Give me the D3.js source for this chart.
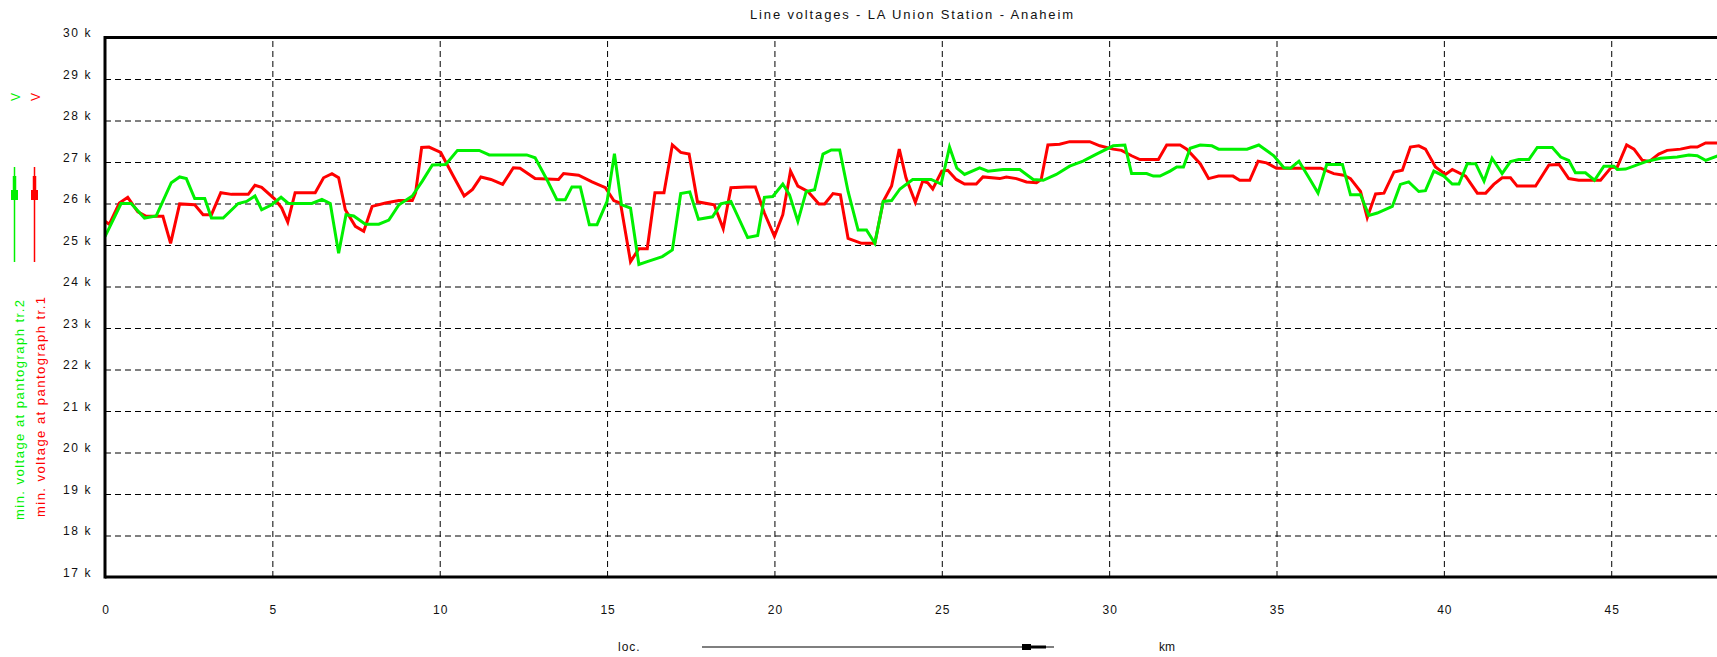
<!DOCTYPE html>
<html>
<head>
<meta charset="utf-8">
<script src="https://cdn.jsdelivr.net/npm/d3@7"></script>
<style>
  html, body { margin: 0; padding: 0; background: #fff; }
  svg { display: block; font-family: "Liberation Sans", Arial, sans-serif; }
</style>
</head>
<body>
<svg id="chart" width="1717" height="657"></svg>
<script>
// values (km, kV)
const redKm = [0, 0.13, 0.43, 0.68, 0.98, 1.23, 1.73, 1.96, 2.23, 2.68, 2.93, 3.18, 3.46, 3.78, 4.28, 4.48, 4.68, 5.08, 5.28, 5.46, 5.68, 6.28, 6.53, 6.78, 6.98, 7.18, 7.48, 7.73, 7.98, 8.38, 8.78, 9.18, 9.28, 9.46, 9.68, 10.03, 10.38, 10.73, 10.98, 11.23, 11.53, 11.88, 12.2, 12.4, 12.85, 13.55, 13.7, 14.15, 14.55, 14.95, 15.2, 15.4, 15.7, 15.95, 16.2, 16.43, 16.7, 16.95, 17.2, 17.45, 17.7, 18.2, 18.47, 18.7, 19.15, 19.43, 19.7, 20.0, 20.25, 20.48, 20.7, 21.0, 21.33, 21.5, 21.75, 21.97, 22.2, 22.6, 23.0, 23.25, 23.5, 23.73, 23.93, 24.21, 24.43, 24.58, 24.73, 25.0, 25.18, 25.43, 25.68, 26.03, 26.23, 26.73, 26.93, 27.23, 27.53, 27.83, 27.97, 28.17, 28.52, 28.82, 29.42, 29.72, 30.12, 30.37, 30.67, 30.92, 31.47, 31.72, 32.12, 32.32, 32.72, 32.97, 33.27, 33.7, 33.9, 34.2, 34.45, 34.7, 35.0, 36.32, 36.71, 37.01, 37.21, 37.51, 37.71, 37.96, 38.21, 38.51, 38.76, 39.0, 39.25, 39.45, 39.75, 40.05, 40.25, 40.65, 41.0, 41.25, 41.49, 41.74, 41.99, 42.19, 42.74, 43.14, 43.44, 43.73, 44.03, 44.68, 45.0, 45.18, 45.46, 45.68, 45.93, 46.13, 46.42, 46.67, 47.07, 47.37, 47.57, 47.82, 48.18];
const redKv = [25.57, 25.5, 26.01, 26.15, 25.8, 25.69, 25.69, 25.04, 25.99, 25.97, 25.73, 25.73, 26.26, 26.22, 26.22, 26.44, 26.39, 26.1, 25.89, 25.55, 26.26, 26.26, 26.62, 26.72, 26.62, 25.85, 25.45, 25.33, 25.93, 26.01, 26.07, 26.07, 26.26, 27.35, 27.36, 27.23, 26.7, 26.18, 26.34, 26.64, 26.58, 26.46, 26.86, 26.85, 26.6, 26.58, 26.72, 26.68, 26.52, 26.38, 26.07, 26.01, 24.6, 24.91, 24.91, 26.26, 26.26, 27.41, 27.23, 27.19, 26.04, 25.97, 25.39, 26.38, 26.4, 26.4, 25.77, 25.21, 25.73, 26.78, 26.42, 26.29, 25.99, 25.99, 26.24, 26.21, 25.16, 25.04, 25.04, 26.05, 26.42, 27.31, 26.62, 26.03, 26.54, 26.5, 26.35, 26.78, 26.8, 26.58, 26.47, 26.47, 26.64, 26.6, 26.64, 26.6, 26.52, 26.5, 26.58, 27.41, 27.43, 27.49, 27.49, 27.39, 27.31, 27.28, 27.15, 27.06, 27.06, 27.41, 27.41, 27.31, 26.96, 26.6, 26.66, 26.66, 26.56, 26.56, 27.02, 26.98, 26.85, 26.85, 26.72, 26.68, 26.6, 26.29, 25.66, 26.23, 26.25, 26.76, 26.8, 27.36, 27.39, 27.31, 26.88, 26.7, 26.82, 26.66, 26.25, 26.25, 26.46, 26.62, 26.62, 26.42, 26.42, 26.93, 26.94, 26.6, 26.56, 26.56, 26.87, 26.88, 27.41, 27.31, 27.04, 27.01, 27.19, 27.28, 27.31, 27.36, 27.36, 27.46, 27.46];

const greenKm = [0, 0.48, 0.78, 1.18, 1.53, 1.98, 2.23, 2.43, 2.68, 2.98, 3.18, 3.53, 3.98, 4.23, 4.48, 4.68, 4.98, 5.26, 5.48, 6.18, 6.48, 6.73, 6.98, 7.2, 7.43, 7.78, 8.18, 8.48, 8.78, 9.18, 9.48, 9.78, 10.18, 10.53, 11.18, 11.48, 12.6, 12.85, 13.2, 13.5, 13.75, 13.95, 14.2, 14.47, 14.7, 15.0, 15.22, 15.43, 15.7, 15.95, 16.2, 16.65, 16.95, 17.2, 17.47, 17.73, 18.15, 18.4, 18.7, 19.2, 19.5, 19.7, 19.95, 20.25, 20.45, 20.7, 20.95, 21.2, 21.45, 21.7, 21.95, 22.2, 22.5, 22.75, 23.0, 23.25, 23.5, 23.75, 24.13, 24.68, 24.98, 25.23, 25.45, 25.68, 26.13, 26.38, 26.83, 27.33, 27.73, 28.03, 28.42, 28.82, 29.22, 29.62, 30.12, 30.47, 30.67, 31.12, 31.32, 31.52, 31.82, 32.02, 32.22, 32.42, 32.72, 33.07, 33.27, 34.12, 34.47, 34.92, 35.22, 35.42, 35.67, 35.97, 36.24, 36.5, 36.97, 37.21, 37.51, 37.76, 38.01, 38.46, 38.7, 38.95, 39.25, 39.45, 39.7, 40.0, 40.25, 40.45, 40.7, 40.95, 41.2, 41.44, 41.74, 41.99, 42.24, 42.54, 42.79, 43.24, 43.49, 43.73, 43.93, 44.23, 44.5, 44.78, 45.08, 45.18, 45.43, 46.08, 46.47, 46.97, 47.32, 47.57, 47.82, 48.18];
const greenKv = [25.2, 26.0, 26.0, 25.65, 25.7, 26.5, 26.64, 26.6, 26.12, 26.12, 25.65, 25.65, 26.0, 26.05, 26.18, 25.85, 25.97, 26.15, 26.0, 26.0, 26.1, 26.0, 24.8, 25.73, 25.7, 25.5, 25.5, 25.6, 25.97, 26.18, 26.54, 26.93, 26.94, 27.28, 27.28, 27.17, 27.17, 27.1, 26.58, 26.09, 26.09, 26.4, 26.4, 25.49, 25.49, 26.05, 27.2, 25.97, 25.89, 24.53, 24.6, 24.72, 24.88, 26.24, 26.28, 25.62, 25.68, 25.99, 26.05, 25.18, 25.23, 26.15, 26.17, 26.47, 26.21, 25.57, 26.29, 26.33, 27.19, 27.29, 27.29, 26.29, 25.36, 25.36, 25.04, 26.05, 26.07, 26.35, 26.58, 26.58, 26.47, 27.36, 26.85, 26.7, 26.86, 26.78, 26.82, 26.82, 26.58, 26.56, 26.7, 26.9, 27.02, 27.19, 27.39, 27.41, 26.72, 26.72, 26.66, 26.66, 26.78, 26.88, 26.88, 27.33, 27.41, 27.39, 27.31, 27.31, 27.41, 27.15, 26.86, 26.85, 27.02, 26.62, 26.25, 26.94, 26.94, 26.21, 26.21, 25.71, 25.77, 25.93, 26.46, 26.52, 26.29, 26.31, 26.78, 26.66, 26.47, 26.47, 26.96, 26.96, 26.54, 27.09, 26.72, 27.01, 27.06, 27.06, 27.35, 27.35, 27.12, 27.04, 26.74, 26.74, 26.56, 26.9, 26.9, 26.82, 26.83, 27.02, 27.09, 27.12, 27.17, 27.15, 27.04, 27.15];

const yTicks = [17, 18, 19, 20, 21, 22, 23, 24, 25, 26, 27, 28, 29, 30];
const xTicks = [0, 5, 10, 15, 20, 25, 30, 35, 40, 45];
const titleText = "Line voltages -  LA Union Station - Anaheim";
const redName = "min. voltage at pantograph tr.1";
const greenName = "min. voltage at pantograph tr.2";

const RED = "#ff0000";
const GREEN = "#00f000";

const svg = d3.select("#chart");
const plotL = 105, plotR = 1717, plotT = 37.5, plotB = 577;

const x = d3.scaleLinear().domain([0, 48.16]).range([plotL, plotR]);
const y = d3.scaleLinear().domain([17, 30]).range([plotB, plotT]);

// title, centred over the plot
svg.append("text")
  .attr("x", 750).attr("y", 19)
  .attr("textLength", 323).attr("lengthAdjust", "spacing")
  .attr("font-size", 13).attr("fill", "#111")
  .text(titleText);

// grid
const gy = svg.append("g")
  .attr("transform", `translate(${plotL},0)`)
  .call(d3.axisLeft(y).tickValues(yTicks.filter(d => d > 17 && d < 30)).tickSize(-(plotR - plotL)).tickFormat(""));
gy.select(".domain").remove();
gy.selectAll("line").attr("stroke", "#000").attr("stroke-dasharray", "6,4");

const gx = svg.append("g")
  .attr("transform", `translate(0,${plotB})`)
  .call(d3.axisBottom(x).tickValues(xTicks.filter(d => d > 0)).tickSize(-(plotB - plotT)).tickFormat(""));
gx.select(".domain").remove();
gx.selectAll("line").attr("stroke", "#000").attr("stroke-dasharray", "6,4");

// tick labels
const ly = svg.append("g")
  .attr("transform", `translate(${plotL},0)`)
  .call(d3.axisLeft(y).tickValues(yTicks).tickSize(0).tickPadding(13).tickFormat(d => d + " k"));
ly.select(".domain").remove();
ly.selectAll("text")
  .attr("dy", null).attr("y", -1)
  .attr("font-size", 12).attr("letter-spacing", "1.6px")
  .attr("font-family", null).attr("fill", "#111");

const lx = svg.append("g")
  .attr("transform", `translate(0,${plotB})`)
  .call(d3.axisBottom(x).tickValues(xTicks).tickSize(0).tickFormat(d3.format("d")));
lx.select(".domain").remove();
lx.selectAll("text")
  .attr("dy", null).attr("y", 37).attr("dx", 0.5)
  .attr("font-size", 12).attr("letter-spacing", "1px")
  .attr("font-family", null).attr("fill", "#111");

// series
svg.append("clipPath").attr("id", "plotclip")
  .append("rect").attr("x", plotL).attr("y", plotT).attr("width", plotR - plotL).attr("height", plotB - plotT);

const line = d3.line().x(d => x(d[0])).y(d => y(d[1]));
const plot = svg.append("g").attr("clip-path", "url(#plotclip)");
plot.append("path")
  .datum(d3.zip(redKm, redKv))
  .attr("d", line).attr("fill", "none")
  .attr("stroke", RED).attr("stroke-width", 3).attr("stroke-linejoin", "miter");
plot.append("path")
  .datum(d3.zip(greenKm, greenKv))
  .attr("d", line).attr("fill", "none")
  .attr("stroke", GREEN).attr("stroke-width", 3).attr("stroke-linejoin", "miter");

// frame
svg.append("line").attr("x1", plotL).attr("x2", plotL).attr("y1", plotT - 1.5).attr("y2", plotB + 1.5)
  .attr("stroke", "#000").attr("stroke-width", 3);
svg.append("line").attr("x1", plotL).attr("x2", plotR).attr("y1", plotT).attr("y2", plotT)
  .attr("stroke", "#000").attr("stroke-width", 3);
svg.append("line").attr("x1", plotL).attr("x2", plotR).attr("y1", plotB).attr("y2", plotB)
  .attr("stroke", "#000").attr("stroke-width", 3);

// left legend: unit, line symbol, rotated series names
const legend = [
  { name: greenName, color: GREEN, cx: 14.5, base: 24, start: 520 },
  { name: redName, color: RED, cx: 34.5, base: 45, start: 517 }
];
legend.forEach(s => {
  svg.append("text")
    .attr("transform", `translate(${s.cx + 5},101) rotate(-90)`)
    .attr("font-size", 12).attr("fill", s.color)
    .text("V");
  svg.append("line").attr("x1", s.cx).attr("x2", s.cx).attr("y1", 167).attr("y2", 262)
    .attr("stroke", s.color).attr("stroke-width", 1.5);
  svg.append("line").attr("x1", s.cx).attr("x2", s.cx).attr("y1", 176).attr("y2", 192)
    .attr("stroke", s.color).attr("stroke-width", 3.5);
  svg.append("rect").attr("x", s.cx - 3.5).attr("y", 190).attr("width", 7).attr("height", 10)
    .attr("fill", s.color);
  svg.append("text")
    .attr("transform", `translate(${s.base},${s.start}) rotate(-90)`)
    .attr("textLength", 220).attr("lengthAdjust", "spacing")
    .attr("font-size", 13).attr("fill", s.color)
    .text(s.name);
});

// bottom: location axis caption
svg.append("text").attr("x", 618).attr("y", 651).attr("font-size", 12).attr("fill", "#111")
  .attr("letter-spacing", "1px").text("loc.");
svg.append("line").attr("x1", 702).attr("x2", 1054).attr("y1", 647).attr("y2", 647)
  .attr("stroke", "#000").attr("stroke-width", 1.2);
svg.append("rect").attr("x", 1022).attr("y", 644).attr("width", 9).attr("height", 6).attr("fill", "#000");
svg.append("line").attr("x1", 1031).attr("x2", 1046).attr("y1", 647).attr("y2", 647)
  .attr("stroke", "#000").attr("stroke-width", 3);
svg.append("text").attr("x", 1159).attr("y", 651).attr("font-size", 12).attr("fill", "#111")
  .text("km");
</script>
</body>
</html>
